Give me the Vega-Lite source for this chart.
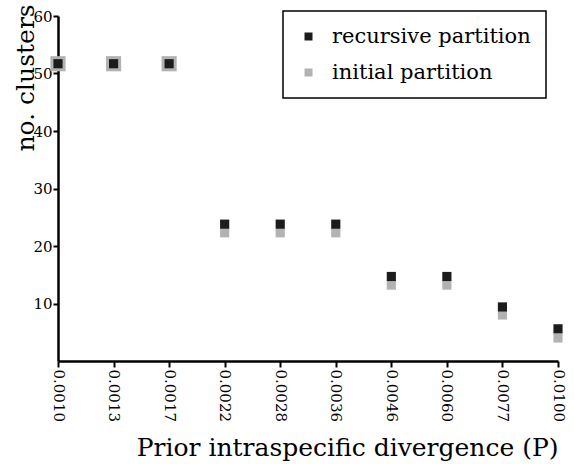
{
  "$schema": "https://vega.github.io/schema/vega-lite/v6.json",
  "width": 500,
  "height": 345,
  "autosize": {"type": "none"},
  "padding": {"left": 58, "top": 16, "right": 16, "bottom": 103},
  "background": "white",
  "title": {
    "text": "Π = 0.5",
    "anchor": "start",
    "frame": "group",
    "font": "DejaVu Serif",
    "fontSize": 26,
    "fontWeight": "bold",
    "color": "black",
    "baseline": "alphabetic",
    "offset": -6
  },
  "data": {
    "values": [
      {"P": "0.0010", "recursive partition": 51.7, "initial partition": 51.7},
      {"P": "0.0013", "recursive partition": 51.7, "initial partition": 51.7},
      {"P": "0.0017", "recursive partition": 51.7, "initial partition": 51.7},
      {"P": "0.0022", "recursive partition": 23.8, "initial partition": 22.3},
      {"P": "0.0028", "recursive partition": 23.8, "initial partition": 22.3},
      {"P": "0.0036", "recursive partition": 23.8, "initial partition": 22.3},
      {"P": "0.0046", "recursive partition": 14.7, "initial partition": 13.2},
      {"P": "0.0060", "recursive partition": 14.7, "initial partition": 13.2},
      {"P": "0.0077", "recursive partition": 9.4, "initial partition": 8.0},
      {"P": "0.0100", "recursive partition": 5.6, "initial partition": 4.0}
    ]
  },
  "transform": [
    {"calculate": "datum['recursive partition'] == datum['initial partition']", "as": "same"},
    {"fold": ["initial partition", "recursive partition"], "as": ["partition", "clusters"]}
  ],
  "mark": {"type": "point", "shape": "square", "filled": true, "opacity": 1},
  "encoding": {
    "x": {
      "field": "P",
      "type": "ordinal",
      "scale": {"type": "point", "padding": 0},
      "axis": {
        "title": "Prior intraspecific divergence (P)",
        "titleFont": "DejaVu Serif",
        "titleFontSize": 25,
        "titleFontWeight": "normal",
        "titleColor": "black",
        "titleAnchor": "end",
        "titlePadding": 14,
        "labelAngle": 90,
        "labelAlign": "left",
        "labelBaseline": "middle",
        "labelFont": "DejaVu Serif",
        "labelFontSize": 15,
        "labelColor": "black",
        "labelPadding": 2,
        "domainColor": "black",
        "domainWidth": 2.5,
        "tickColor": "black",
        "tickWidth": 2,
        "tickSize": 6,
        "grid": false
      }
    },
    "y": {
      "field": "clusters",
      "type": "quantitative",
      "scale": {"domain": [0, 60], "nice": false},
      "axis": {
        "title": "no. clusters",
        "titleFont": "DejaVu Serif",
        "titleFontSize": 25,
        "titleFontWeight": "normal",
        "titleColor": "black",
        "titleAngle": -90,
        "titleAlign": "left",
        "titleBaseline": "middle",
        "titleX": -33,
        "titleY": 135,
        "values": [10, 20, 30, 40, 50, 60],
        "labelFont": "DejaVu Serif",
        "labelFontSize": 15,
        "labelColor": "black",
        "labelPadding": 1,
        "domainColor": "black",
        "domainWidth": 2.5,
        "tickColor": "black",
        "tickWidth": 2,
        "tickSize": 5,
        "grid": false
      }
    },
    "color": {
      "field": "partition",
      "type": "nominal",
      "scale": {
        "domain": ["recursive partition", "initial partition"],
        "range": ["#1c1c1e", "#b2b2b2"]
      },
      "legend": {
        "title": null,
        "orient": "none",
        "legendX": 225,
        "legendY": -5,
        "strokeColor": "black",
        "fillColor": "white",
        "padding": 15,
        "symbolType": "square",
        "symbolSize": 64,
        "symbolOpacity": 1,
        "labelFont": "DejaVu Serif",
        "labelFontSize": 21,
        "labelColor": "black",
        "labelOffset": 13,
        "rowPadding": 14,
        "labelLimit": 400,
        "encode": {"legend": {"update": {"strokeWidth": {"value": 1.5}}}}
      }
    },
    "size": {
      "condition": {"test": "datum.partition == 'initial partition' && datum.same", "value": 230},
      "value": 84
    }
  },
  "config": {
    "view": {"stroke": null}
  }
}
